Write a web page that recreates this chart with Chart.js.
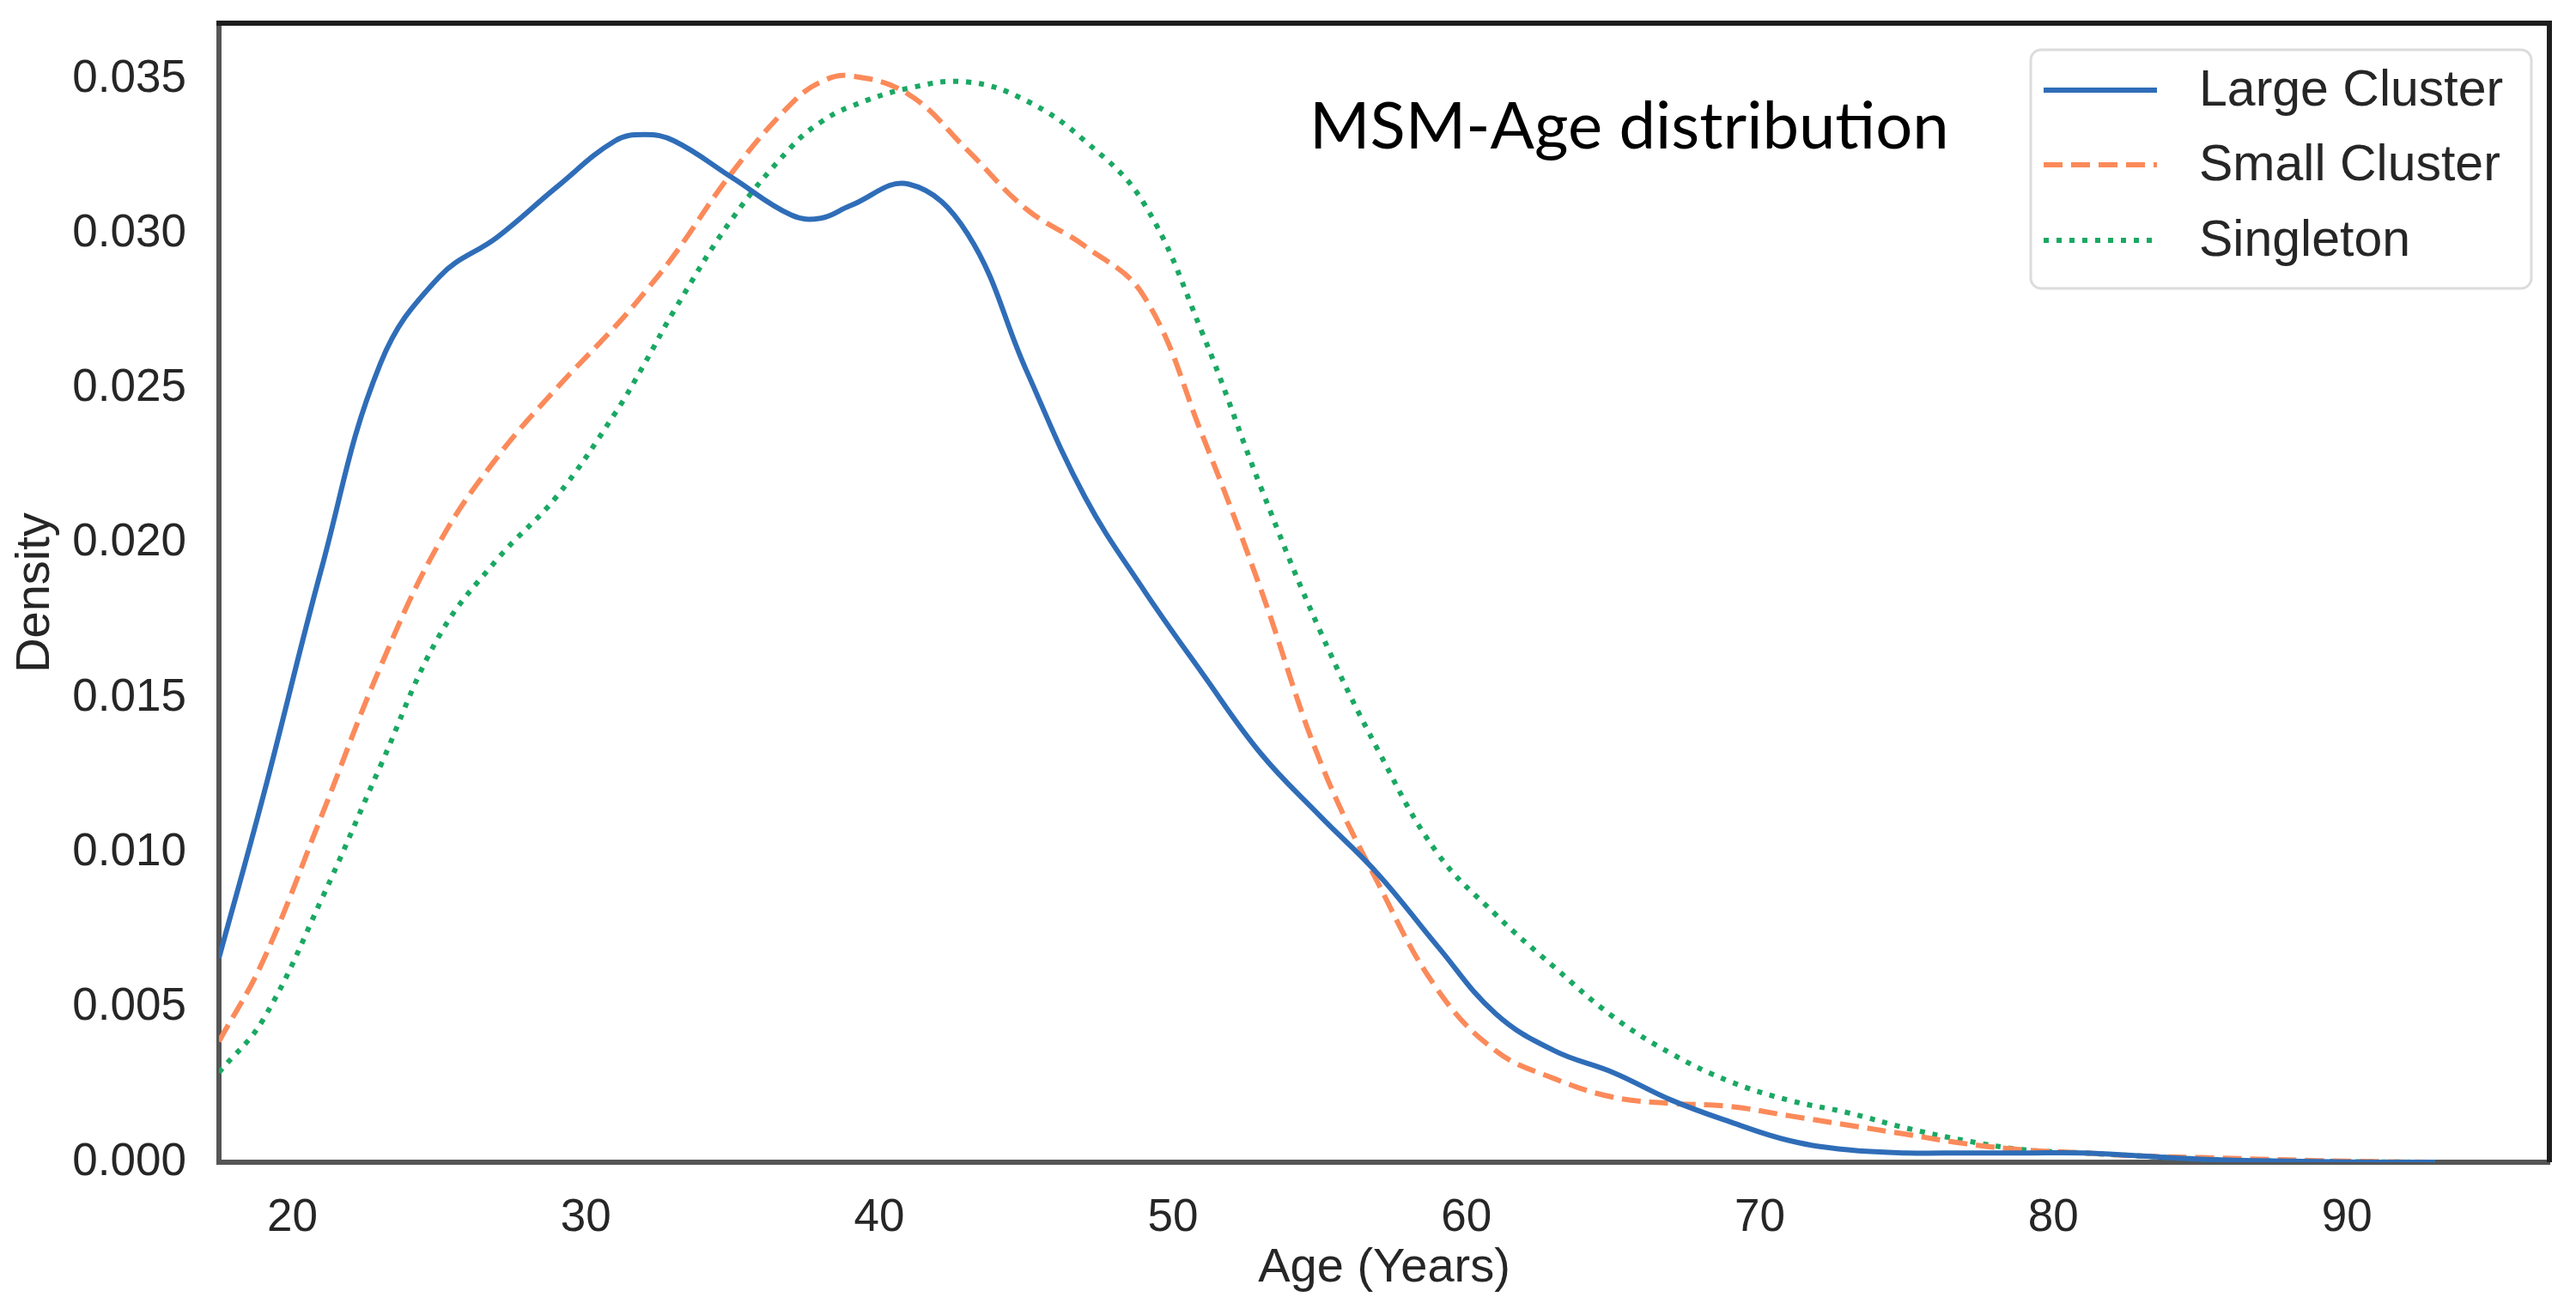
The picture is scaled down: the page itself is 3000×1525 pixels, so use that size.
<!DOCTYPE html>
<html>
<head>
<meta charset="utf-8">
<script src="https://cdn.jsdelivr.net/npm/chart.js@4.4.1/dist/chart.umd.min.js"></script>
<style>
  html, body { margin: 0; padding: 0; background: #fff; }
  #wrap { width: 3000px; height: 1525px; }
</style>
</head>
<body>
<div id="wrap"><canvas id="kde"></canvas></div>
<script>
// age grid (years) and density values
const ages = [17.5, 19, 21, 23, 25, 27, 29, 31, 32, 33, 35, 37, 38, 39, 41, 43, 45, 47, 49, 51, 53, 55, 57, 59, 61, 63, 65, 67, 69, 71, 73, 75, 77, 79, 81, 83, 85, 87, 89, 91, 93];
const largeCluster = [0.0066, 0.0118, 0.0192, 0.0258, 0.0286, 0.0299, 0.0315, 0.0330, 0.0332, 0.0330, 0.0318, 0.0306, 0.0305, 0.0309, 0.0316, 0.0300, 0.0256, 0.0215, 0.0185, 0.0158, 0.0132, 0.0112, 0.0093, 0.0070, 0.0048, 0.0036, 0.0029, 0.0020, 0.0013, 0.0007, 0.0004, 0.0003, 0.0003, 0.0003, 0.0003, 0.0002, 0.0001, 0.00005, 0.00002, 0, 0];
const smallCluster = [0.0039, 0.0065, 0.0112, 0.0160, 0.0200, 0.0228, 0.0250, 0.0270, 0.0281, 0.0293, 0.0320, 0.0342, 0.0349, 0.0351, 0.0345, 0.0327, 0.0308, 0.0296, 0.0280, 0.0235, 0.0185, 0.0130, 0.0090, 0.0056, 0.0036, 0.0027, 0.0021, 0.0019, 0.0018, 0.0015, 0.0012, 0.0009, 0.0006, 0.0004, 0.0003, 0.0002, 0.00015, 0.0001, 0.00005, 0.00002, 0];
const singleton = [0.0029, 0.0046, 0.0085, 0.0128, 0.0170, 0.0195, 0.0215, 0.0242, 0.0258, 0.0275, 0.0305, 0.0328, 0.0336, 0.0341, 0.0347, 0.0349, 0.0343, 0.0330, 0.0310, 0.0268, 0.0218, 0.0172, 0.0133, 0.0100, 0.0080, 0.0063, 0.0047, 0.0035, 0.0026, 0.0020, 0.0016, 0.0011, 0.0007, 0.0004, 0.0003, 0.0002, 0.0001, 0.00005, 0.00003, 0.00001, 0];

const xTicks = [20, 30, 40, 50, 60, 70, 80, 90];
const yTicks = [0, 0.005, 0.010, 0.015, 0.020, 0.025, 0.030, 0.035];

const seriesNames = ['Large Cluster', 'Small Cluster', 'Singleton'];
const seriesColors = ['#2f6db8', '#fb8a5a', '#1aa863'];
const seriesDash = [[], [22, 10], [6, 9]];

const FONT = '"Liberation Sans", Arial, sans-serif';

function pts(vals) {
  return ages.map((a, i) => ({ x: a, y: vals[i] }));
}

// frame on top + right, legend box and inner title
const decor = {
  id: 'decor',
  afterDatasetsDraw(chart) {
    const { ctx, chartArea: a } = chart;
    ctx.save();
    ctx.strokeStyle = '#1e1e1e';
    ctx.lineWidth = 6;
    ctx.beginPath();
    ctx.moveTo(a.left - 3, a.top);
    ctx.lineTo(a.right, a.top);
    ctx.lineTo(a.right, a.bottom);
    ctx.stroke();

    // title inside plot
    ctx.fillStyle = '#000';
    ctx.font = '76px Lato, "Open Sans", sans-serif';
    ctx.textBaseline = 'middle';
    ctx.textAlign = 'left';
    ctx.fillText('MSM-Age distribution', 1525, 148);

    // legend
    const bx = 2365, by = 58, bw = 583, bh = 278;
    ctx.fillStyle = 'rgba(255,255,255,0.9)';
    ctx.strokeStyle = '#dcdcdc';
    ctx.lineWidth = 3;
    ctx.beginPath();
    ctx.roundRect(bx, by, bw, bh, 12);
    ctx.fill();
    ctx.stroke();

    const rows = [105, 192, 280];
    ctx.font = '59px ' + FONT;
    seriesNames.forEach((name, i) => {
      ctx.strokeStyle = seriesColors[i];
      ctx.lineWidth = 6;
      ctx.setLineDash(seriesDash[i]);
      ctx.beginPath();
      ctx.moveTo(2380, rows[i]);
      ctx.lineTo(2512, rows[i]);
      ctx.stroke();
      ctx.setLineDash([]);
      ctx.fillStyle = '#262626';
      ctx.fillText(name, 2561, rows[i] + 2);
    });
    ctx.restore();
  }
};

new Chart(document.getElementById('kde'), {
  type: 'line',
  data: {
    datasets: seriesNames.map((name, i) => ({
      label: name,
      data: pts([largeCluster, smallCluster, singleton][i]),
      borderColor: seriesColors[i],
      backgroundColor: seriesColors[i],
      borderWidth: 6,
      borderDash: seriesDash[i],
      pointRadius: 0,
      tension: 0.4,
      fill: false
    }))
  },
  options: {
    responsive: true,
    maintainAspectRatio: false,
    animation: false,
    devicePixelRatio: 1,
    layout: { padding: { top: 27, right: 31, left: 0, bottom: 0 } },
    plugins: {
      legend: { display: false },
      tooltip: { enabled: false }
    },
    scales: {
      x: {
        type: 'linear',
        min: 17.5,
        max: 96.9,
        afterBuildTicks: s => { s.ticks = xTicks.map(v => ({ value: v })); },
        afterFit: s => { s.height = 171; s.paddingLeft = 0; s.paddingRight = 0; },
        grid: { display: false, drawTicks: false },
        border: { display: true, color: '#555', width: 6 },
        ticks: { color: '#262626', font: { family: FONT, size: 53 }, padding: 34, maxRotation: 0 },
        title: { display: true, text: 'Age (Years)', color: '#262626', font: { family: FONT, size: 56 }, padding: { top: 0, bottom: 14 } }
      },
      y: {
        min: 0,
        max: 0.0368,
        afterBuildTicks: s => { s.ticks = yTicks.map(v => ({ value: v })); },
        afterFit: s => { s.width = 255; s.paddingTop = 0; s.paddingBottom = 0; },
        grid: { display: false, drawTicks: false },
        border: { display: true, color: '#555', width: 6 },
        ticks: { color: '#262626', font: { family: FONT, size: 53 }, padding: 38, callback: v => v.toFixed(3) },
        title: { display: true, text: 'Density', color: '#262626', font: { family: FONT, size: 56 }, padding: { top: 8, bottom: 0 } }
      }
    }
  },
  plugins: [decor]
});
</script>
</body>
</html>
